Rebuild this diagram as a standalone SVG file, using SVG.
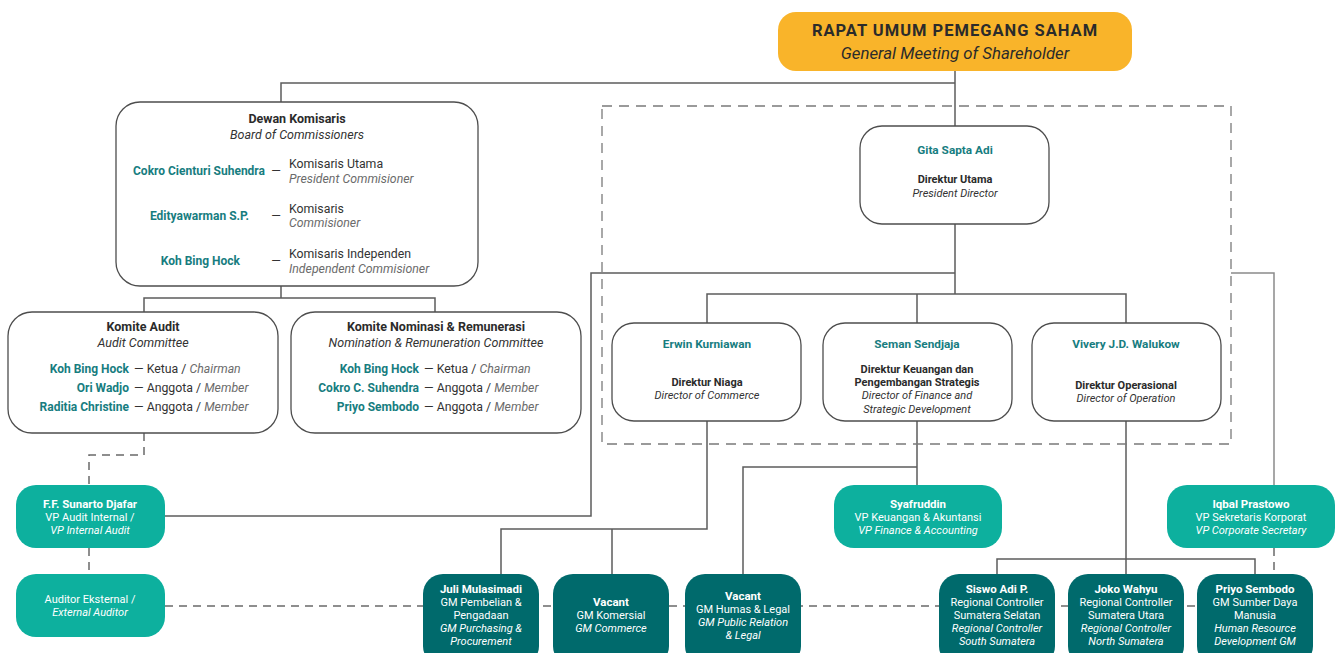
<svg xmlns="http://www.w3.org/2000/svg" width="1338" height="653" viewBox="0 0 1338 653">
<defs>
<style>
text{font-family:Roboto,"Noto Sans",sans-serif;}
.ln{fill:none;stroke:#5c5c5c;stroke-width:1.5;}
.lnl{fill:none;stroke:#8a8a8a;stroke-width:1.5;}
.dash{fill:none;stroke:#6a6a6a;stroke-width:1.5;stroke-dasharray:8,6;}
.dbox{fill:none;stroke:#7a7a7a;stroke-width:1.3;stroke-dasharray:10,7;}
.wbox{fill:#fff;stroke:#4d4d4d;stroke-width:1.3;}
.lt{fill:#0db09e;}
.dk{fill:#006a6c;}
.h{font-size:12.5px;font-weight:700;fill:#2b2b2b;text-anchor:middle;}
.hi{font-size:12.5px;font-style:italic;fill:#333;text-anchor:middle;}
.nm{font-size:12px;font-weight:700;fill:#177d7f;}
.rl{font-size:12.3px;fill:#333;}
.ri{font-style:italic;fill:#6b6b6b;}
.dn{font-size:11.8px;font-weight:700;fill:#177d7f;text-anchor:middle;}
.dt{font-size:11px;font-weight:700;fill:#2b2b2b;text-anchor:middle;}
.di{font-size:11px;font-style:italic;fill:#333;text-anchor:middle;}
.wb{font-size:11.5px;font-weight:700;fill:#fff;text-anchor:middle;}
.wt{font-size:11px;fill:#fff;text-anchor:middle;}
.wi{font-size:11px;font-style:italic;fill:#fff;text-anchor:middle;}
</style>
</defs>
<rect width="1338" height="653" fill="#fff"/>

<g id="connectors">
<path class="ln" d="M955 70 V126"/>
<path class="ln" d="M955 83 H281 V102"/>
<path class="ln" d="M281 286 V298 M144 312 V298 H435 V312"/>
<path class="ln" d="M955 224 V294 M707 323 V294 H1126 V323 M917 294 V323"/>
<path class="ln" d="M955 273 H591 V516 H165"/>
<path class="lnl" d="M1231 273 H1274 V485"/>
<path class="ln" d="M707 421 V529 H501 V574 M612 529 V574"/>
<path class="ln" d="M917 421 V485 M917 467 H743 V574"/>
<path class="ln" d="M1126 421 V574 M997 574 V559 H1255 V574"/>
<path class="dash" d="M144 433 V455 H89 V485"/>
<path class="dash" d="M89 548 V574"/>
<path class="dash" d="M1274 548 V574"/>
<path class="dash" d="M165 606 H1197"/>
<rect class="dbox" x="602" y="106" width="629" height="338"/>
</g>

<g id="rups">
<rect x="778" y="12" width="354" height="59" rx="18" fill="#f9b42a"/>
<text x="955" y="36" style="font-size:16.5px;font-weight:700;fill:#2b2b2b;text-anchor:middle;letter-spacing:1px">RAPAT UMUM PEMEGANG SAHAM</text>
<text x="955" y="59" style="font-size:16.8px;font-style:italic;fill:#2b2b2b;text-anchor:middle">General Meeting of Shareholder</text>
</g>

<g id="dewan-komisaris">
<rect class="wbox" x="116" y="102" width="362" height="184" rx="24"/>
<text class="h" x="297" y="123">Dewan Komisaris</text>
<text class="hi" x="297" y="139">Board of Commissioners</text>
<text class="nm" x="265" y="175" text-anchor="end">Cokro Cienturi Suhendra</text>
<text class="rl" x="276" y="175" text-anchor="middle">—</text>
<text class="rl" x="289" y="168">Komisaris Utama</text>
<text class="rl ri" x="289" y="183">President Commisioner</text>
<text class="nm" x="249" y="220" text-anchor="end">Edityawarman S.P.</text>
<text class="rl" x="276" y="220" text-anchor="middle">—</text>
<text class="rl" x="289" y="213">Komisaris</text>
<text class="rl ri" x="289" y="227">Commisioner</text>
<text class="nm" x="240" y="265" text-anchor="end">Koh Bing Hock</text>
<text class="rl" x="276" y="265" text-anchor="middle">—</text>
<text class="rl" x="289" y="258">Komisaris Independen</text>
<text class="rl ri" x="289" y="273">Independent Commisioner</text>
</g>

<g id="komite-audit">
<rect class="wbox" x="8" y="312" width="270" height="121" rx="24"/>
<text class="h" x="143" y="331">Komite Audit</text>
<text class="hi" x="143" y="347">Audit Committee</text>
<text class="nm" x="129" y="373" text-anchor="end">Koh Bing Hock</text>
<text class="rl" x="134" y="373">— Ketua / <tspan class="ri">Chairman</tspan></text>
<text class="nm" x="129" y="392" text-anchor="end">Ori Wadjo</text>
<text class="rl" x="134" y="392">— Anggota / <tspan class="ri">Member</tspan></text>
<text class="nm" x="129" y="411" text-anchor="end">Raditia Christine</text>
<text class="rl" x="134" y="411">— Anggota / <tspan class="ri">Member</tspan></text>
</g>

<g id="komite-nominasi">
<rect class="wbox" x="291" y="312" width="290" height="121" rx="24"/>
<text class="h" x="436" y="331">Komite Nominasi &amp; Remunerasi</text>
<text class="hi" x="436" y="347">Nomination &amp; Remuneration Committee</text>
<text class="nm" x="419" y="373" text-anchor="end">Koh Bing Hock</text>
<text class="rl" x="424" y="373">— Ketua / <tspan class="ri">Chairman</tspan></text>
<text class="nm" x="419" y="392" text-anchor="end">Cokro C. Suhendra</text>
<text class="rl" x="424" y="392">— Anggota / <tspan class="ri">Member</tspan></text>
<text class="nm" x="419" y="411" text-anchor="end">Priyo Sembodo</text>
<text class="rl" x="424" y="411">— Anggota / <tspan class="ri">Member</tspan></text>
</g>

<g id="gita">
<rect class="wbox" x="860" y="126" width="189" height="98" rx="22"/>
<text class="dn" x="955" y="154">Gita Sapta Adi</text>
<text class="dt" x="955" y="183">Direktur Utama</text>
<text class="di" x="955" y="197">President Director</text>
</g>

<g id="erwin">
<rect class="wbox" x="612" y="323" width="189" height="98" rx="22"/>
<text class="dn" x="707" y="348">Erwin Kurniawan</text>
<text class="dt" x="707" y="386">Direktur Niaga</text>
<text class="di" x="707" y="399">Director of Commerce</text>
</g>

<g id="seman">
<rect class="wbox" x="823" y="323" width="189" height="98" rx="22"/>
<text class="dn" x="917" y="348">Seman Sendjaja</text>
<text class="dt" x="917" y="373">Direktur Keuangan dan</text>
<text class="dt" x="917" y="386">Pengembangan Strategis</text>
<text class="di" x="917" y="399">Director of Finance and</text>
<text class="di" x="917" y="413">Strategic Development</text>
</g>

<g id="vivery">
<rect class="wbox" x="1032" y="323" width="189" height="98" rx="22"/>
<text class="dn" x="1126" y="348">Vivery J.D. Walukow</text>
<text class="dt" x="1126" y="389">Direktur Operasional</text>
<text class="di" x="1126" y="402">Director of Operation</text>
</g>

<g id="sunarto">
<rect class="lt" x="16" y="485" width="149" height="63" rx="20"/>
<text class="wb" x="90" y="508">F.F. Sunarto Djafar</text>
<text class="wt" x="90" y="521">VP Audit Internal /</text>
<text class="wi" x="90" y="534">VP Internal Audit</text>
</g>

<g id="auditor-eksternal">
<rect class="lt" x="16" y="574" width="149" height="63" rx="20"/>
<text class="wt" x="90" y="603">Auditor Eksternal /</text>
<text class="wi" x="90" y="616">External Auditor</text>
</g>

<g id="syafruddin">
<rect class="lt" x="834" y="485" width="168" height="63" rx="20"/>
<text class="wb" x="918" y="508">Syafruddin</text>
<text class="wt" x="918" y="521">VP Keuangan &amp; Akuntansi</text>
<text class="wi" x="918" y="534">VP Finance &amp; Accounting</text>
</g>

<g id="iqbal">
<rect class="lt" x="1167" y="485" width="168" height="63" rx="20"/>
<text class="wb" x="1251" y="508">Iqbal Prastowo</text>
<text class="wt" x="1251" y="521">VP Sekretaris Korporat</text>
<text class="wi" x="1251" y="534">VP Corporate Secretary</text>
</g>

<g id="juli">
<rect class="dk" x="423" y="574" width="116" height="92" rx="20"/>
<text class="wb" x="481" y="593">Juli Mulasimadi</text>
<text class="wt" x="481" y="606">GM Pembelian &amp;</text>
<text class="wt" x="481" y="619">Pengadaan</text>
<text class="wi" x="481" y="632">GM Purchasing &amp;</text>
<text class="wi" x="481" y="645">Procurement</text>
</g>

<g id="vacant-komersial">
<rect class="dk" x="553" y="574" width="116" height="92" rx="20"/>
<text class="wb" x="611" y="606">Vacant</text>
<text class="wt" x="611" y="619">GM Komersial</text>
<text class="wi" x="611" y="632">GM Commerce</text>
</g>

<g id="vacant-humas">
<rect class="dk" x="685" y="574" width="116" height="92" rx="20"/>
<text class="wb" x="743" y="600">Vacant</text>
<text class="wt" x="743" y="613">GM Humas &amp; Legal</text>
<text class="wi" x="743" y="626">GM Public Relation</text>
<text class="wi" x="743" y="639">&amp; Legal</text>
</g>

<g id="siswo">
<rect class="dk" x="939" y="574" width="116" height="92" rx="20"/>
<text class="wb" x="997" y="593">Siswo Adi P.</text>
<text class="wt" x="997" y="606">Regional Controller</text>
<text class="wt" x="997" y="619">Sumatera Selatan</text>
<text class="wi" x="997" y="632">Regional Controller</text>
<text class="wi" x="997" y="645">South Sumatera</text>
</g>

<g id="joko">
<rect class="dk" x="1068" y="574" width="116" height="92" rx="20"/>
<text class="wb" x="1126" y="593">Joko Wahyu</text>
<text class="wt" x="1126" y="606">Regional Controller</text>
<text class="wt" x="1126" y="619">Sumatera Utara</text>
<text class="wi" x="1126" y="632">Regional Controller</text>
<text class="wi" x="1126" y="645">North Sumatera</text>
</g>

<g id="priyo">
<rect class="dk" x="1197" y="574" width="116" height="92" rx="20"/>
<text class="wb" x="1255" y="593">Priyo Sembodo</text>
<text class="wt" x="1255" y="606">GM Sumber Daya</text>
<text class="wt" x="1255" y="619">Manusia</text>
<text class="wi" x="1255" y="632">Human Resource</text>
<text class="wi" x="1255" y="645">Development GM</text>
</g>
</svg>
